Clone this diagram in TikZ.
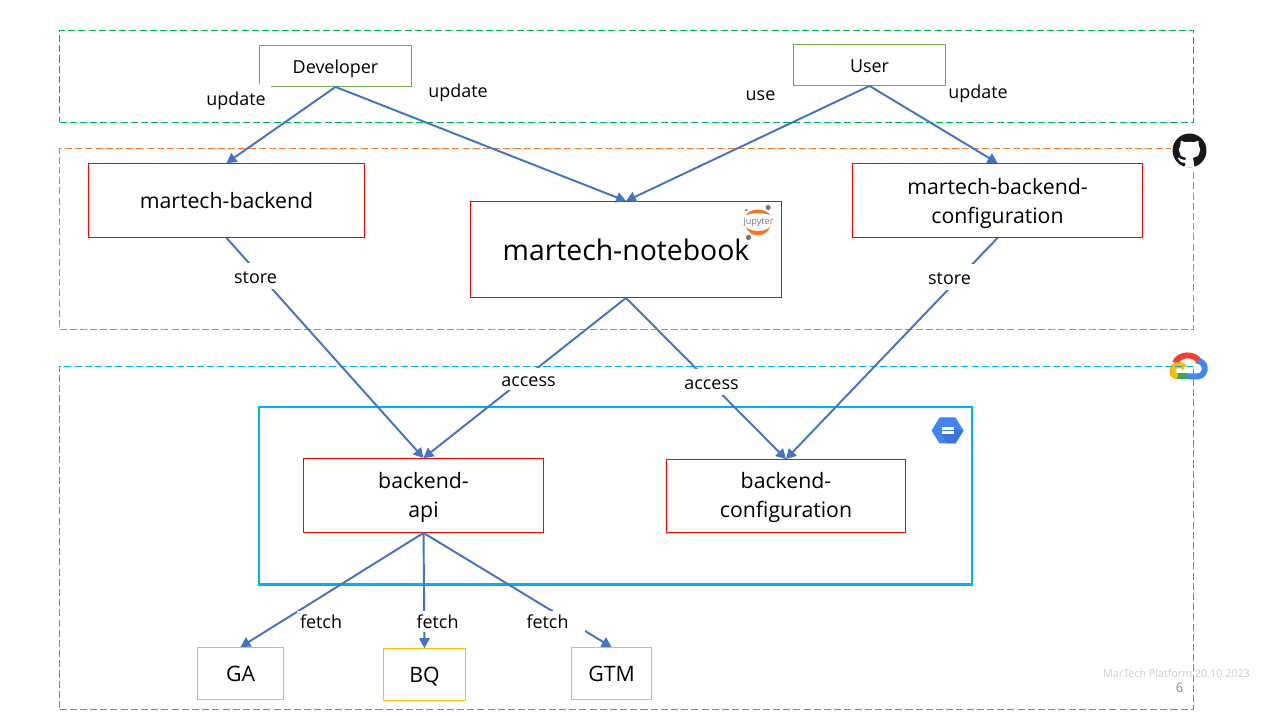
\documentclass[tikz,border=0pt]{standalone}
\usepackage{fontspec}
\setmainfont{Open Sans}
\usetikzlibrary{arrows.meta}
\definecolor{arrowblue}{HTML}{4472C4}
\definecolor{boxred}{HTML}{FF0000}
\definecolor{boxgreen}{HTML}{70AD47}
\definecolor{boxyellow}{HTML}{FFC000}
\definecolor{zonegreen}{HTML}{00B050}
\definecolor{zoneorange}{HTML}{ED7D31}
\definecolor{zoneblue}{HTML}{00B0F0}
\definecolor{jupyterorange}{HTML}{F37726}
\definecolor{jupytergrey}{HTML}{767677}
\definecolor{hexblue}{HTML}{4285F4}
\definecolor{hexdark}{HTML}{3A74DC}
\definecolor{cloudred}{HTML}{EA4335}
\definecolor{cloudyellow}{HTML}{FBBC04}
\definecolor{cloudgreen}{HTML}{34A853}
\begin{document}
\begin{tikzpicture}[
    >={Triangle[length=2.8pt,width=3pt]},
    box/.style={
      draw,
      line width=0.25pt,
      inner sep=0pt,
      align=center,
      font=\fontsize{6.05}{8.25}\selectfont,
      text height=6.6pt,
      text depth=1.8pt
    },
    twolines/.style={text height=13.5pt, text depth=1pt},
    actor/.style={box, draw=boxgreen, minimum width=1.52cm, minimum height=0.41cm, font=\fontsize{5.1}{7}\selectfont, text height=5.1pt, text depth=1pt},
    repo/.style={box, draw=boxred, minimum height=0.74cm},
    source/.style={box, draw=boxyellow, minimum height=0.52cm},
    zone/.style={
      draw,
      dashed,
      dash pattern=on 2pt off 0.9pt,
      line width=0.28pt,
      minimum width=11.34cm,
      inner sep=0pt
    },
    tag/.style={
      fill=white,
      inner xsep=0.03cm,
      inner ysep=0pt,
      minimum height=0.26cm,
      font=\fontsize{5.1}{7}\selectfont,
      text height=5.1pt,
      text depth=1pt
    },
    link/.style={->, draw=arrowblue, line width=0.55pt}
  ]
  \useasboundingbox (-0.005, 0.005) rectangle (12.795, 7.205);

  % zones
  \node[zone, draw=zonegreen, minimum height=0.92cm] (people) at (6.26, 6.44) {};
  \node[zone, draw=zoneorange, minimum height=1.805cm] (github) at (6.26, 4.8125) {};

  % google cloud icon
  \begin{scope}[line width=1.7pt]
    \draw[color=cloudred] (11.745, 3.575) .. controls (11.78, 3.67) and (11.95, 3.68) .. (11.99, 3.58);
    \draw[color=hexblue] (11.98, 3.60) .. controls (12.03, 3.58) and (12.05, 3.54) .. (12.04, 3.50) .. controls (12.03, 3.46) and (12.00, 3.44) .. (11.96, 3.44) -- (11.87, 3.44);
    \draw[color=cloudgreen] (11.76, 3.44) -- (11.87, 3.44);
    \draw[color=cloudyellow] (11.84, 3.53) .. controls (11.79, 3.58) and (11.71, 3.55) .. (11.72, 3.49) .. controls (11.72, 3.45) and (11.75, 3.44) .. (11.77, 3.44);
  \end{scope}

  \node[zone, draw=zoneblue, minimum height=3.43cm] (cloud) at (6.26, 1.825) {};
  \node[draw=zoneblue, line width=0.6pt, minimum width=7.13cm, minimum height=1.775cm, inner sep=0pt] (cluster) at (6.15, 2.2475) {};

  % boxes
  \node[actor] (dev) at (3.35, 6.545) {Developer};
  \node[actor] (user) at (8.69, 6.555) {User};

  \node[repo, minimum width=2.76cm] (backend) at (2.26, 5.20) {martech-backend};
  \node[repo, minimum width=3.11cm, minimum height=0.96cm, font=\fontsize{8.07}{10}\selectfont, text height=8.5pt, text depth=2.4pt] (notebook) at (6.255, 4.71) {martech-notebook};
  \node[repo, twolines, minimum width=2.90cm, text height=14.1pt] (config) at (9.97, 5.20) {martech-backend-\\configuration};

  \node[repo, twolines, minimum width=2.40cm] (api) at (4.23, 2.25) {backend-\\api};
  \node[repo, twolines, minimum width=2.39cm, minimum height=0.73cm] (apiconf) at (7.855, 2.245) {backend-\\configuration};

  \node[source, minimum width=0.86cm] (ga) at (2.40, 0.47) {GA};
  \node[source, minimum width=0.82cm] (bq) at (4.24, 0.46) {BQ};
  \node[source, minimum width=0.80cm] (gtm) at (6.11, 0.47) {GTM};

  % connectors
  \draw[link] (dev.south) -- (backend.north);
  \draw[link] (dev.south) -- (notebook.north);
  \draw[link] (user.south) -- (notebook.north);
  \draw[link] (user.south) -- (config.north);

  \draw[link] (backend.south) -- (api.north);
  \draw[link] (config.south) -- (apiconf.north);
  \draw[link] (notebook.south) -- (api.north);
  \draw[link] (notebook.south) -- (apiconf.north);

  \draw[link] (api.south) -- (ga.north);
  \draw[link] (api.south) -- (bq.north);
  \draw[link] (api.south) -- (gtm.north);

  % labels on the connectors
  \node[tag, minimum width=0.70cm, minimum height=0.28cm] (update1) at (2.355, 6.22) {update};
  \node[tag] (update2) at (4.575, 6.30) {update};
  \node[tag] (use) at (7.60, 6.27) {use};
  \node[tag, inner xsep=0pt] (update3) at (9.775, 6.29) {update};

  \node[tag] (store1) at (2.55, 4.44) {store};
  \node[tag] (store2) at (9.49, 4.43) {store};
  \node[tag, minimum height=0.22cm] (access1) at (5.28, 3.41) {access};
  \node[tag] (access2) at (7.11, 3.38) {access};

  \node[tag, minimum height=0.20cm] (fetch1) at (3.205, 0.99) {fetch};
  \node[tag, minimum height=0.20cm] (fetch2) at (4.37, 0.99) {fetch};
  \node[tag, minimum height=0.20cm, minimum width=0.74cm] (fetch3) at (5.47, 0.99) {fetch};

  % github icon
  \fill[white] (11.70, 5.50) rectangle (12.07, 5.87);
  \begin{scope}[shift={(11.89, 5.70)}, x=0.0212cm, y=-0.0212cm]
    \fill[black!90] (0, 0) circle (8);
    \fill[white, rounded corners=0.25pt, shift={(-8, -8)}]
      (6.02, 15.21) -- (6.01, 13.72) -- (4.2, 13.7) -- (3.32, 12.78) -- (2.5, 11.65) -- (2.49, 11.12)
      -- (3.72, 11.94) -- (6.05, 12.6) -- (6.56, 11.53) -- (3.9, 10.6) -- (2.92, 7.58) -- (3.74, 5.43)
      -- (3.82, 3.31) -- (6.02, 4.13) -- (8.02, 3.86) -- (10.02, 4.13) -- (12.22, 3.31) -- (12.3, 5.43)
      -- (13.12, 7.58) -- (12.1, 10.6) -- (9.47, 11.53) -- (10.01, 13.01) -- (10, 15.21) -- (10.55, 15.59)
      -- (10.55, 16) -- (5.47, 16) -- (5.47, 15.59) -- cycle;
  \end{scope}

  % jupyter icon
  \fill[jupyterorange] (7.45, 5.05) .. controls (7.50, 5.13) and (7.65, 5.13) .. (7.70, 5.05) .. controls (7.65, 5.08) and (7.50, 5.08) .. (7.45, 5.05) -- cycle;
  \fill[jupyterorange] (7.45, 4.94) .. controls (7.50, 4.82) and (7.65, 4.82) .. (7.70, 4.94) .. controls (7.65, 4.88) and (7.50, 4.88) .. (7.45, 4.94) -- cycle;
  \node[inner sep=0pt, text=jupytergrey, font=\fontsize{2.6}{3}\selectfont] (jupyter) at (7.58, 4.985) {jupyter};
  \fill[jupytergrey] (7.677, 5.13) circle (0.025);
  \fill[jupytergrey] (7.457, 5.103) circle (0.013);
  \fill[jupytergrey] (7.48, 4.83) circle (0.026);

  % storage icon
  \fill[hexblue] (9.31, 2.90) -- (9.39, 3.03) -- (9.55, 3.03) -- (9.63, 2.90) -- (9.55, 2.77) -- (9.39, 2.77) -- cycle;
  \fill[hexdark] (9.53, 2.92) -- (9.63, 2.90) -- (9.55, 2.77) -- (9.46, 2.77) -- (9.41, 2.87) -- cycle;
  \fill[white] (9.417, 2.90) rectangle (9.533, 2.935);
  \fill[white] (9.417, 2.865) rectangle (9.533, 2.893);

  % footer
  \node[inner sep=0pt, text=black!20, font=\fontsize{3.05}{4}\selectfont] (footer) at (11.76, 0.47) {MarTech Platform 20.10.2023};
  \node[inner sep=0pt, text=black!45, font=\fontsize{3.7}{4}\selectfont] (page) at (11.79, 0.33) {6};
\end{tikzpicture}
\end{document}
